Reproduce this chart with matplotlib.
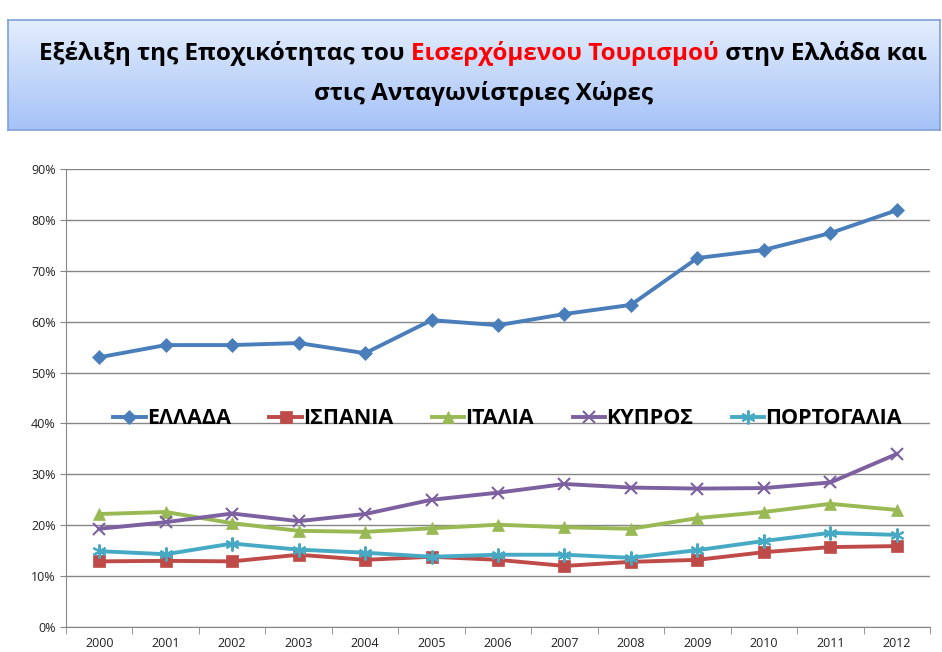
import matplotlib
matplotlib.use("Agg")
import matplotlib.pyplot as plt
import numpy as np
from matplotlib.ticker import PercentFormatter

years = ["2000", "2001", "2002", "2003", "2004", "2005", "2006",
         "2007", "2008", "2009", "2010", "2011", "2012"]

ellada = [53.0, 55.4, 55.4, 55.8, 53.8, 60.3, 59.3, 61.5, 63.3, 72.5, 74.1, 77.4, 81.9]
ispania = [12.9, 13.0, 12.9, 14.2, 13.2, 13.8, 13.2, 12.0, 12.8, 13.2, 14.7, 15.7, 15.9]
italia = [22.2, 22.6, 20.4, 18.9, 18.7, 19.4, 20.1, 19.6, 19.3, 21.4, 22.6, 24.2, 23.0]
kypros = [19.3, 20.6, 22.3, 20.8, 22.2, 25.0, 26.4, 28.1, 27.4, 27.2, 27.3, 28.4, 34.0]
portogalia = [14.9, 14.3, 16.4, 15.2, 14.6, 13.8, 14.2, 14.2, 13.6, 15.1, 16.9, 18.5, 18.1]

series = [
    ("ΕΛΛΑΔΑ", ellada, "#4a7ebb", "D", 7.5),
    ("ΙΣΠΑΝΙΑ", ispania, "#be4b48", "s", 8.5),
    ("ΙΤΑΛΙΑ", italia, "#98b954", "^", 8.5),
    ("ΚΥΠΡΟΣ", kypros, "#7d60a0", "x", 8.5),
    ("ΠΟΡΤΟΓΑΛΙΑ", portogalia, "#46aac5", (6, 2, 0), 10),
]

plt.rcParams['font.family'] = ['Open Sans', 'DejaVu Sans']

fig = plt.figure(figsize=(9.42, 6.52), dpi=100)

# title box with vertical gradient
box_l, box_b, box_w, box_h = 8 / 942, 1 - 130 / 652, 932 / 942, 110 / 652
grad = np.linspace(0, 1, 256).reshape(-1, 1)
top_c = np.array([0.89, 0.93, 0.99])
bot_c = np.array([0.65, 0.76, 0.97])
img = bot_c + (top_c - bot_c) * grad
bax = fig.add_axes([box_l, box_b, box_w, box_h])
bax.imshow(img.reshape(256, 1, 3), aspect="auto", extent=[0, 1, 0, 1], origin="lower")
bax.set_xticks([])
bax.set_yticks([])
for s in bax.spines.values():
    s.set_color("#7fa1d8")
    s.set_linewidth(1.2)

# title line 1 (mixed colours)
parts = [("Εξέλιξη της Εποχικότητας του ", "black"),
         ("Εισερχόμενου Τουρισμού", "#ff0000"),
         (" στην Ελλάδα και", "black")]
fs = 17.5
renderer = fig.canvas.get_renderer()
texts = []
for txt, col in parts:
    t = fig.text(0, 1 - 53 / 652, txt, color=col, fontsize=fs, fontweight="bold", va="center", ha="left")
    texts.append(t)
widths = [t.get_window_extent(renderer).width for t in texts]
total = sum(widths)
x0 = (483 - total / 2)
for t, w in zip(texts, widths):
    t.set_x(x0 / 942)
    x0 += w
fig.text(483 / 942, 1 - 93 / 652, "στις Ανταγωνίστριες Χώρες", fontsize=fs, fontweight="bold",
         va="center", ha="center")

ax = fig.add_axes([66 / 942, 1 - 627 / 652, 864 / 942, 458 / 652])
x = np.arange(len(years))
for name, vals, col, mk, ms in series:
    ax.plot(x, vals, color=col, lw=2.8, marker=mk, markersize=ms,
            markeredgewidth=1.5 if mk in ("x", (6, 2, 0)) else 0.5, label=name)

ax.set_ylim(0, 90)
ax.set_xlim(-0.5, len(years) - 0.5)
ax.set_yticks(np.arange(0, 91, 10))
ax.yaxis.set_major_formatter(PercentFormatter(decimals=0))
ax.set_xticks(x)
ax.set_xticklabels(years)
ax.set_xticks(np.arange(-0.5, len(years)), minor=True)
ax.tick_params(axis="x", which="major", length=0, labelsize=9, pad=7, colors="#222222")
ax.tick_params(axis="x", which="minor", length=5, color="#868686")
ax.tick_params(axis="y", length=4, color="#868686", labelsize=9, colors="#222222")
ax.grid(axis="y", color="#868686", lw=1)
ax.set_axisbelow(True)
for s in ("top", "right"):
    ax.spines[s].set_visible(False)
for s in ("left", "bottom"):
    ax.spines[s].set_color("#868686")

leg = ax.legend(loc="center", bbox_to_anchor=(0.511, 0.455), ncol=5, frameon=False,
                prop={"weight": "bold", "size": 15.5}, handlelength=1.5,
                handletextpad=0.05, columnspacing=1.8, borderaxespad=0)

fig.savefig("out.png", dpi=100)
